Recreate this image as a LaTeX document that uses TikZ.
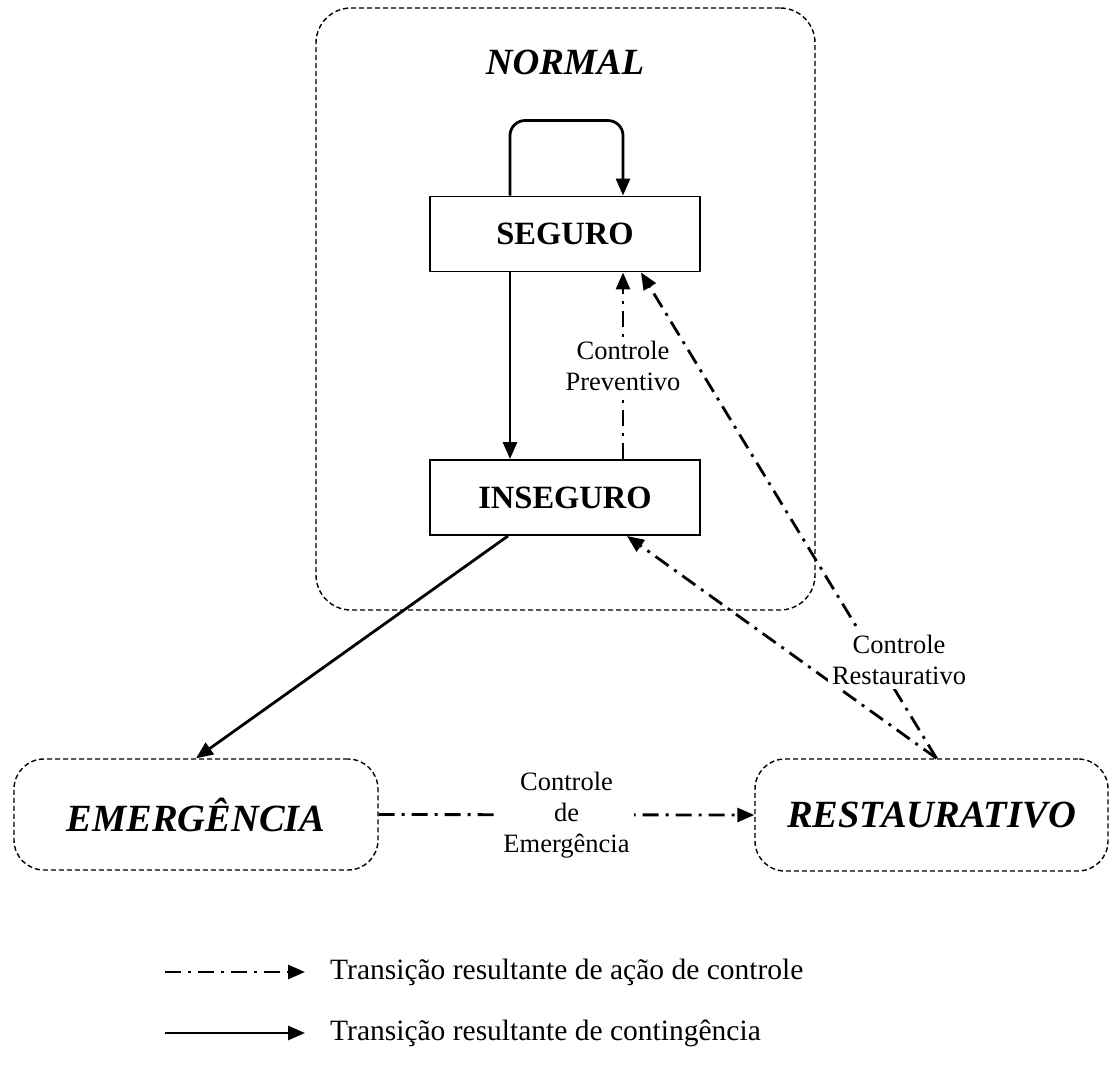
\documentclass[tikz,border=0pt]{standalone}
\usepackage{fontspec}
\setmainfont{Liberation Serif}
\usetikzlibrary{arrows.meta}

\begin{document}
\begin{tikzpicture}[x=1pt,y=-1pt,
  % rounded dashed frames for the operating states
  statebox/.style={draw, line width=1.4pt, dash pattern=on 5pt off 3pt,
    rounded corners=30pt, inner sep=0pt,
    font=\fontsize{38.5}{46}\selectfont\bfseries\itshape},
  % plain boxes inside the normal state
  subbox/.style={draw, line width=1.9pt, minimum width=270pt, minimum height=75pt,
    inner sep=0pt, font=\fontsize{32.5}{38}\selectfont\bfseries},
  tip/.style={-{Triangle[length=17pt,width=14pt]}},
  contg/.style={tip, line width=2.8pt},
  ctrl/.style={tip, line width=2.8pt, dash pattern=on 16pt off 7pt on 3pt off 7pt},
  lbl/.style={fill=white, align=center, inner sep=4pt,
    font=\fontsize{26.5}{31}\selectfont},
  legendtext/.style={anchor=west, inner sep=0pt, font=\fontsize{29.5}{35}\selectfont}
]
\useasboundingbox (0,0) rectangle (1110,1065);

% normal state frame and its title
\node[statebox, rounded corners=35pt, minimum width=499pt, minimum height=602pt]
  (normal) at (565.5,309) {};
\node[font=\fontsize{37}{44}\selectfont\bfseries\itshape] (normaltitle) at (565,62) {NORMAL};

% secure / insecure sub-states
\node[subbox] (seguro) at (565,234) {SEGURO};
\node[subbox] (inseguro) at (565,497.5) {INSEGURO};

% emergency and restorative states
\node[statebox, minimum width=364pt, minimum height=111pt] (emerg) at (196,814.5) {EMERGÊNCIA};
\node[statebox, minimum width=353pt, minimum height=112pt] (rest) at (931.5,815) {RESTAURATIVO};

% contingency transitions
\draw[contg, rounded corners=15pt] ([xshift=-55pt]seguro.north) -- ++(0,-75)
  -| ([xshift=58pt]seguro.north);
\draw[contg] ([xshift=-55pt]seguro.south) -- ([xshift=-55pt]inseguro.north);
\draw[contg] ([xshift=-57pt]inseguro.south) -- (emerg.north);

% control transitions
\draw[ctrl] ([xshift=58pt]inseguro.north) -- node[lbl] (prev) {Controle\\Preventivo}
  ([xshift=58pt]seguro.south);
\draw[ctrl] (emerg.east) -- node[lbl] (emlbl) {Controle\\de\\Emergência} (rest.west);
\draw[ctrl] ([xshift=5pt]rest.north) -- ([xshift=76pt]seguro.south);
\draw[ctrl] ([xshift=5pt]rest.north) -- ([xshift=62pt]inseguro.south);
\node[lbl] (restlbl) at (899,660) {Controle\\Restaurativo};

% legend
\coordinate (la1) at (165,972);
\coordinate (la2) at (305,972);
\coordinate (lb1) at (165,1033);
\coordinate (lb2) at (305,1033);
\draw[ctrl] (la1) -- (la2);
\draw[contg] (lb1) -- (lb2);
\node[legendtext] (lta) at (330,972) {Transição resultante de ação de controle};
\node[legendtext] (ltb) at (330,1033) {Transição resultante de contingência};
\end{tikzpicture}
\end{document}
